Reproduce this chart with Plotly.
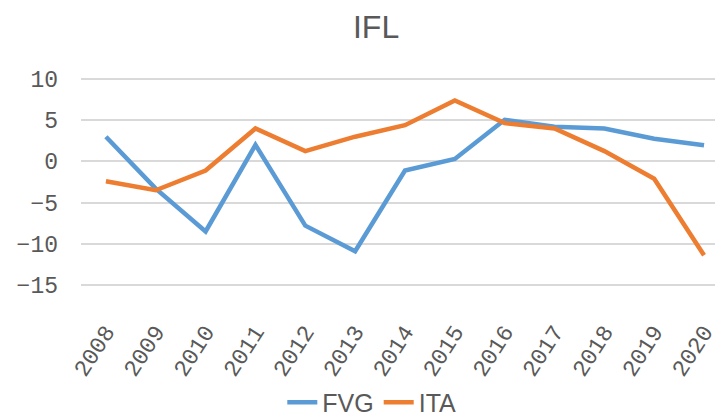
import plotly.graph_objects as go

years = ["2008", "2009", "2010", "2011", "2012", "2013", "2014",
         "2015", "2016", "2017", "2018", "2019", "2020"]
fvg = [3.0, -3.3, -8.5, 2.0, -7.8, -10.9, -1.1, 0.3, 5.05, 4.2, 4.0, 2.75, 1.95]
ita = [-2.4, -3.5, -1.1, 4.0, 1.25, 3.0, 4.4, 7.4, 4.65, 4.0, 1.25, -2.1, -11.4]

y_ticks = [-15, -10, -5, 0, 5, 10]

grey = "#595959"
fig = go.Figure()
fig.add_trace(go.Scatter(x=years, y=fvg, name="FVG", mode="lines",
                         line=dict(color="#5B9BD5", width=4.5)))
fig.add_trace(go.Scatter(x=years, y=ita, name="ITA", mode="lines",
                         line=dict(color="#ED7D31", width=4.5)))

fig.update_layout(
    width=715, height=417,
    margin=dict(l=81, r=0, t=77, b=130, autoexpand=False),
    paper_bgcolor="white", plot_bgcolor="white",
    title=dict(text="IFL", xref="container", x=0.526, xanchor="center",
               yref="container", y=0.935, yanchor="middle",
               font=dict(family="Liberation Sans", size=32, color=grey)),
    showlegend=True,
    legend=dict(orientation="h", xref="container", xanchor="center", x=0.52,
                yref="container", yanchor="middle", y=0.035,
                font=dict(family="Liberation Sans", size=25, color=grey),
                itemwidth=30),
    xaxis=dict(type="category", range=[-0.5, 12.22], showgrid=False,
               showline=False, ticks="", tickangle=-57, automargin=False,
               ticklabelstandoff=26,
               tickfont=dict(family="Liberation Mono", size=23, color=grey)),
    yaxis=dict(range=[-15.25, 10.25], tickvals=y_ticks, showgrid=True,
               gridcolor="#D9D9D9", gridwidth=1.5, zeroline=False,
               showline=False, ticks="", ticklabelstandoff=22, automargin=False,
               tickfont=dict(family="Liberation Mono", size=23, color=grey)),
)

fig.write_html("out.html")
